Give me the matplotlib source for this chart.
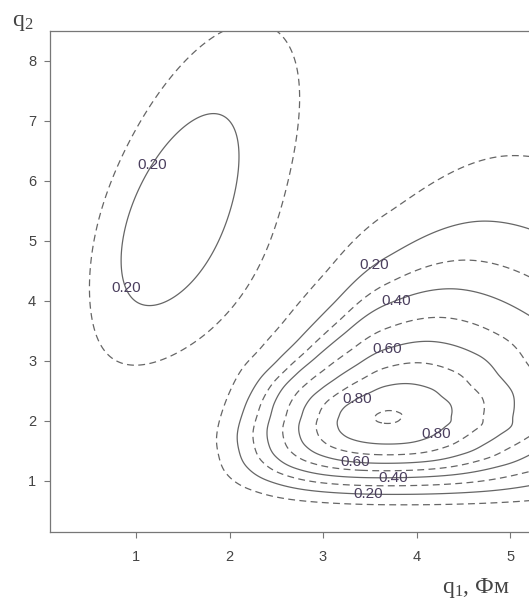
import numpy as np
import matplotlib
matplotlib.use("Agg")
import matplotlib.pyplot as plt

plt.rcParams['font.family'] = ['Liberation Sans', 'DejaVu Sans']
plt.rcParams['mathtext.fontset'] = 'custom'
plt.rcParams['mathtext.rm'] = 'Liberation Serif'
plt.rcParams['mathtext.default'] = 'rm'

# ---------------- values ----------------
solid_levels = [0.2, 0.4, 0.6, 0.8]
dashed_levels = [0.1, 0.3, 0.5, 0.7, 0.9]
x_ticks = [1, 2, 3, 4, 5]
y_ticks = [1, 2, 3, 4, 5, 6, 7, 8]

# main maximum (right): position, height, and - in 24 directions
# (0..345 deg step 15, in ln q1 / ln q2) - the distance of the 0.4 line
# from the maximum and how sharply the distribution falls off inside
# and outside that line
main_peak_q1 = 3.68
main_peak_q2 = 2.07
main_height = 0.907
main_ref_level = 0.4
main_r04 = [0.44, 0.46, 0.51, 0.58, 0.69, 0.73, 0.64, 0.52,
            0.45, 0.42, 0.41, 0.405, 0.41, 0.44, 0.485, 0.55,
            0.62, 0.67, 0.68, 0.66, 0.58, 0.50, 0.46, 0.45]
main_steep_in = [2.0, 2.0, 1.95, 1.85, 1.75, 1.7, 1.75, 1.8,
                 1.85, 1.85, 1.85, 1.85, 1.85, 1.85, 1.85, 1.85,
                 1.85, 1.85, 1.88, 1.9, 1.95, 2.0, 2.0, 2.0]
main_steep_out = [2.0, 2.0, 2.0, 2.0, 2.0, 2.1, 2.5, 2.7,
                  2.8, 2.8, 2.6, 2.4, 2.2, 2.15, 2.15, 2.1,
                  2.0, 1.8, 1.65, 1.65, 1.8, 1.9, 2.0, 2.0]

# secondary maximum (left), widths in (sqrt q1, sqrt q2)
side_peak_q1 = 1.40
side_peak_q2 = 5.40
side_height = 0.275
side_width = [0.472, 0.61]
side_corr_low = 0.38
side_corr_high = 0.68

# where the contour labels sit (q1, q2)
label_q1 = [1.17, 0.83, 3.59, 3.80, 3.68, 3.35, 4.21, 3.34, 3.75, 3.48]
label_q2 = [6.27, 4.17, 4.50, 3.93, 3.22, 2.40, 1.78, 1.28, 1.02, 0.78]

x_label = "q$_1$, Фм"
y_label = "q$_2$"

# ---------------- field ----------------
xlim = (0.08, 6.0)
ylim = (0.15, 8.5)
q1 = np.linspace(xlim[0], xlim[1], 800)
q2 = np.linspace(ylim[0], ylim[1], 800)
Q1, Q2 = np.meshgrid(q1, q2)


def periodic_spline(vals, ang):
    """Periodic Catmull-Rom curve through equally spaced direction values."""
    w = np.asarray(vals, dtype=float)
    n = len(w)
    s = np.mod(ang, 2 * np.pi) / (2 * np.pi / n)
    i1 = np.floor(s).astype(int) % n
    t = s - np.floor(s)
    p0, p1, p2, p3 = w[(i1 - 1) % n], w[i1], w[(i1 + 1) % n], w[(i1 + 2) % n]
    m1, m2 = (p2 - p0) / 2, (p3 - p1) / 2
    return ((2 * t**3 - 3 * t**2 + 1) * p1 + (t**3 - 2 * t**2 + t) * m1
            + (-2 * t**3 + 3 * t**2) * p2 + (t**3 - t**2) * m2)


dx = np.log(Q1 / main_peak_q1)
dy = np.log(Q2 / main_peak_q2)
theta = np.arctan2(dy, dx)
R = periodic_spline(main_r04, theta)
E_in = periodic_spline(main_steep_in, theta)
E_out = periodic_spline(main_steep_out, theta)
srel = np.hypot(dx, dy) / R
hval = np.where(srel < 1, srel ** E_in, srel ** E_out)
scale = np.log(main_height / main_ref_level)
main = main_height * np.exp(-scale * hval)

u = (np.sqrt(Q1) - np.sqrt(side_peak_q1)) / side_width[0]
v = (np.sqrt(Q2) - np.sqrt(side_peak_q2)) / side_width[1]
rho = 0.5 * (side_corr_low + side_corr_high) + \
      0.5 * (side_corr_high - side_corr_low) * np.tanh(1.5 * v)
Qs = (u ** 2 - 2 * rho * u * v + v ** 2) / (1 - rho ** 2)
side = side_height * np.exp(-Qs)

Z = main + side

# ---------------- figure ----------------
W, H = 529, 602
fig = plt.figure(figsize=(W / 100, H / 100), dpi=100)
px_per_x = 93.5
px_per_y = 60.0
left_px, bottom_px = 50.0, 531.7
ax = fig.add_axes([left_px / W, (H - bottom_px) / H,
                   (xlim[1] - xlim[0]) * px_per_x / W,
                   (ylim[1] - ylim[0]) * px_per_y / H])

line_col = '#666666'
ax.contour(Q1, Q2, Z, levels=dashed_levels, colors=line_col,
           linewidths=0.9, linestyles=[(0, (5.5, 3.5))])
cs = ax.contour(Q1, Q2, Z, levels=solid_levels, colors=line_col,
                linewidths=0.9, linestyles='solid')
ax.clabel(cs, fmt='%.2f', inline=False, fontsize=11, colors='#4b3f5e',
          manual=list(zip(label_q1, label_q2)))
for txt in cs.labelTexts:
    txt.set_rotation(0)

ax.set_xlim(*xlim)
ax.set_ylim(*ylim)
ax.set_xticks(x_ticks)
ax.set_yticks(y_ticks)
ax.tick_params(direction='out', length=4, width=0.8, color='#777777',
               labelsize=10.5, labelcolor='#444444')
ax.tick_params(axis='x', pad=9)
ax.tick_params(axis='y', pad=6)
for sp in ax.spines.values():
    sp.set_color('#777777')
    sp.set_linewidth(0.9)

fig.text(12 / W, 1 - 26 / H, y_label, fontsize=17, family='Liberation Serif',
         color='#444444', ha='left', va='baseline')
fig.text(442 / W, 1 - 593 / H, x_label, fontsize=17, family='Liberation Serif',
         color='#444444', ha='left', va='baseline')

fig.savefig('out.png', dpi=100)
